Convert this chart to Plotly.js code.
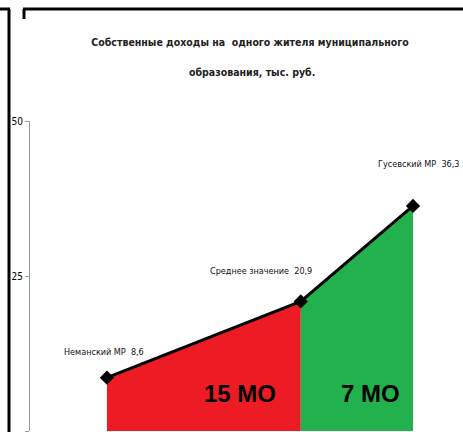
<!DOCTYPE html>
<html>
<head>
<meta charset="utf-8">
<script src="https://cdn.plot.ly/plotly-3.0.1.min.js"></script>
<style>
  body { margin: 0; background: #fff; }
  #plot { width: 463px; height: 432px; }
</style>
</head>
<body>
<div id="plot"></div>
<script>
// Data
let names = ["Неманский МР", "Среднее значение", "Гусевский МР"]
let values = [8.6, 20.9, 36.3]
let valueLabels = ["8,6", "20,9", "36,3"]
// place of each point along the axis (rank of the municipality)
let positions = [1, 14.3, 22]
let groupLabels = ["15 МО", "7 МО"]
let yTicks = [0, 25, 50]

let font = "DejaVu Sans Condensed, sans-serif"

// Red area: below the average
let trace1 = {
  x: positions.slice(0, 2),
  y: values.slice(0, 2),
  type: "scatter",
  mode: "none",
  fill: "tozeroy",
  fillcolor: "#ED1C24",
  hoverinfo: "skip"
};
// Green area: above the average
let trace2 = {
  x: positions.slice(1, 3),
  y: values.slice(1, 3),
  type: "scatter",
  mode: "none",
  fill: "tozeroy",
  fillcolor: "#22B14C",
  hoverinfo: "skip"
};
// Black line with diamonds
let trace3 = {
  x: positions,
  y: values,
  type: "scatter",
  mode: "lines+markers",
  line: { color: "#000", width: 3 },
  marker: { symbol: "diamond", size: 11, color: "#000" }
};

// pixel helpers for the frame lines (plot area is 30..463 x 121..431)
function px(x) { return (x - 30) / 433 }
function py(y) { return (431 - y) / 310 }

let labelShift = [[-3, 26], [-40, 30], [5, 42]]
let annotations = []
for (let i = 0; i < names.length; i++) {
  annotations.push({
    x: positions[i], y: values[i],
    text: names[i] + "  " + valueLabels[i],
    showarrow: false,
    xshift: labelShift[i][0], yshift: labelShift[i][1],
    font: { family: font, size: 9, color: "#111" }
  });
}
annotations.push({
  x: 10.1, y: 6.1, text: "<b>" + groupLabels[0] + "</b>", showarrow: false,
  font: { family: "Liberation Sans, Arial, sans-serif", size: 24, color: "#000" }
});
annotations.push({
  x: 19.1, y: 6.1, text: "<b>" + groupLabels[1] + "</b>", showarrow: false,
  font: { family: "Liberation Sans, Arial, sans-serif", size: 24, color: "#000" }
});
annotations.push({
  xref: "paper", yref: "paper", x: px(252), y: py(72), yanchor: "middle",
  text: "<b>образования, тыс. руб.</b>", showarrow: false,
  font: { family: font, size: 10.5, color: "#222" }
});

let layout = {
  width: 463,
  height: 432,
  showlegend: false,
  paper_bgcolor: "#fff",
  plot_bgcolor: "#fff",
  margin: { l: 30, r: 0, t: 121, b: 1 },
  title: {
    text: "<b>Собственные доходы на  одного жителя муниципального</b>",
    font: { family: font, size: 10.5, color: "#222" },
    x: 250 / 463, xanchor: "center",
    y: 1 - 42 / 432, yanchor: "middle",
    xref: "container", yref: "container"
  },
  xaxis: {
    range: [-4.28, 25.43],
    visible: false,
    fixedrange: true
  },
  yaxis: {
    range: [0, 50],
    tickvals: yTicks,
    ticks: "outside",
    ticklen: 4,
    tickcolor: "#999",
    showline: true,
    linecolor: "#999",
    linewidth: 1,
    showgrid: false,
    zeroline: false,
    tickfont: { family: font, size: 10, color: "#000" }
  },
  annotations: annotations,
  shapes: [
    // frame of the left picture
    { type: "line", xref: "paper", yref: "paper", x0: px(0), y0: py(9), x1: px(10), y1: py(9), line: { color: "#000", width: 3 } },
    { type: "line", xref: "paper", yref: "paper", x0: px(9), y0: py(9), x1: px(9), y1: py(433), line: { color: "#000", width: 3 } },
    // frame of the right picture
    { type: "line", xref: "paper", yref: "paper", x0: px(24), y0: py(19), x1: px(24), y1: py(9), line: { color: "#000", width: 3 } },
    { type: "line", xref: "paper", yref: "paper", x0: px(23), y0: py(9), x1: px(465), y1: py(9), line: { color: "#000", width: 3 } }
  ]
};

Plotly.newPlot("plot", [trace1, trace2, trace3], layout, { displayModeBar: false });
</script>
</body>
</html>
